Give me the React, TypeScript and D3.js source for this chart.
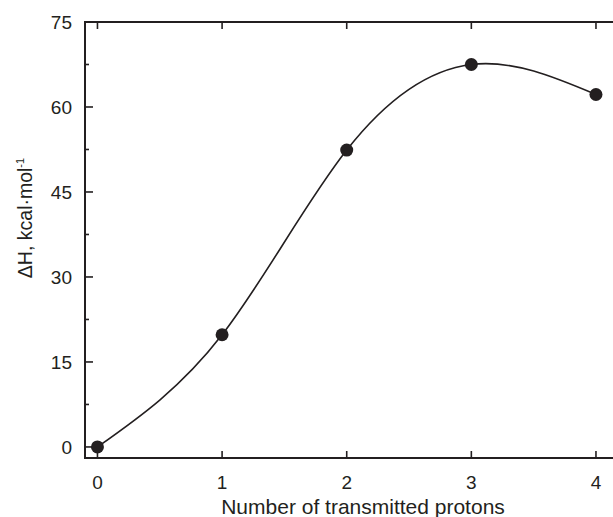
import React, { useEffect, useRef } from "react";
import * as d3 from "d3";

const protons = [0, 1, 2, 3, 4];
const enthalpy = [0, 19.8, 52.4, 67.5, 62.2];
const yMajorTicks = [0, 15, 30, 45, 60, 75];
const yMinorTicks = [7.5, 22.5, 37.5, 52.5, 67.5];
const xTicks = [0, 1, 2, 3, 4];

const ink = "#231f20";
const font = "Arial, 'Liberation Sans', Helvetica, sans-serif";

const App = () => {
    const svgRef = useRef(null);
    const width = 613;
    const height = 517;
    const margin = {
        "left": 85,
        "top": 22,
        "bottom": 458
    };

    useEffect(() => {
        const svg = d3.select(svgRef.current);
        svg.selectAll("*").remove();

        // scales: 0 sits at 98px, 4 at 596px
        const xScale = d3.scaleLinear().domain([-0.1, 4.25]).range([margin.left, 98 + 4.25 * 124.5]);
        const yScale = d3.scaleLinear().domain([-1.95, 75]).range([margin.bottom, margin.top]);

        const right = xScale(4.25);

        // plot frame
        svg.append("path")
            .attr("d", `M${right},${margin.top}H${margin.left}V${margin.bottom}H${right}`)
            .attr("fill", "none")
            .attr("stroke", ink)
            .attr("stroke-width", 2);

        // x ticks on bottom and top
        xTicks.forEach(t => {
            const x = xScale(t);
            svg.append("line").attr("x1", x).attr("x2", x)
                .attr("y1", margin.bottom).attr("y2", margin.bottom - 7)
                .attr("stroke", ink).attr("stroke-width", 1.6);
            svg.append("line").attr("x1", x).attr("x2", x)
                .attr("y1", margin.top).attr("y2", margin.top + 7)
                .attr("stroke", ink).attr("stroke-width", 1.6);
            svg.append("text")
                .attr("x", x).attr("y", 488.5)
                .attr("text-anchor", "middle")
                .attr("font-family", font).attr("font-size", 19)
                .attr("fill", ink)
                .text(t);
        });

        // y ticks
        yMajorTicks.forEach(t => {
            const y = yScale(t);
            svg.append("line").attr("x1", margin.left).attr("x2", margin.left + 8)
                .attr("y1", y).attr("y2", y)
                .attr("stroke", ink).attr("stroke-width", 1.6);
            svg.append("text")
                .attr("x", 72).attr("y", y + 7)
                .attr("text-anchor", "end")
                .attr("font-family", font).attr("font-size", 19)
                .attr("fill", ink)
                .text(t);
        });
        yMinorTicks.forEach(t => {
            const y = yScale(t);
            svg.append("line").attr("x1", margin.left).attr("x2", margin.left + 4)
                .attr("y1", y).attr("y2", y)
                .attr("stroke", ink).attr("stroke-width", 1.6);
        });

        // fitted curve
        const line = d3.line()
            .x((d, i) => xScale(protons[i]))
            .y(d => yScale(d))
            .curve(d3.curveNatural);
        svg.append("path")
            .attr("d", line(enthalpy))
            .attr("fill", "none")
            .attr("stroke", ink)
            .attr("stroke-width", 1.6);

        svg.selectAll(".dot")
            .data(enthalpy)
            .enter()
            .append("circle")
            .attr("cx", (d, i) => xScale(protons[i]))
            .attr("cy", d => yScale(d))
            .attr("r", 6.5)
            .attr("fill", ink);

        // axis titles
        svg.append("text")
            .attr("x", 363).attr("y", 514)
            .attr("text-anchor", "middle")
            .attr("font-family", font).attr("font-size", 21)
            .attr("fill", ink)
            .text("Number of transmitted protons");

        const yTitle = svg.append("text")
            .attr("transform", "translate(32, 218) rotate(-90)")
            .attr("text-anchor", "middle")
            .attr("font-family", font).attr("font-size", 19.5)
            .attr("fill", ink);
        yTitle.append("tspan").text("ΔH, kcal·mol");
        yTitle.append("tspan").attr("dy", -8).attr("font-size", 11).text("-1");

    }, []);

    return (
        <svg
            ref={svgRef}
            width={width}
            height={height}
            style={{ position: "absolute", left: 0, top: 0, background: "#fff" }}
        />
    );
};

export default App;
